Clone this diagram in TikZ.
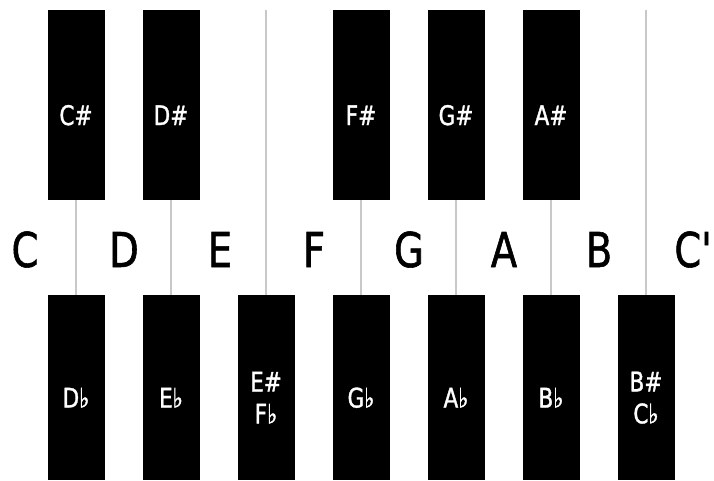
\documentclass[tikz,border=0pt]{standalone}
\usepackage{fontspec}
\setmainfont{DejaVu Sans}
\newfontfamily\notefont[FakeStretch=0.8,FakeBold=1.2]{DejaVu Sans}
\definecolor{KeyGrey}{HTML}{C8C8C8}
\usetikzlibrary{positioning}

\begin{document}
\begin{tikzpicture}[x=1pt,y=-1pt,
    blackkey/.style={fill=black,draw=none,minimum width=57pt,inner sep=0pt,anchor=north},
    keylab/.style={text=white,font=\notefont\fontsize{27}{32}\selectfont,align=center},
    whitelab/.style={font=\notefont\fontsize{48}{48}\selectfont,anchor=base,inner sep=0pt},
    split/.style={draw=KeyGrey,line width=1.5pt}]
  \useasboundingbox (0,0) rectangle (714,480);
  % upper row of black keys
  \foreach \nm/\x/\lab in {Cs/76/C\#,Ds/171/D\#,Fs/361/F\#,Gs/456/G\#,As/551/A\#} {
    \node[blackkey,minimum height=190pt] (\nm) at (\x,10) {};
    \node[keylab] (\nm-lab) at ([yshift=-10pt]\nm.center) {\lab};
  }
  % lower row of black keys
  \foreach \nm/\x/\lab in {Db/76/D♭,Eb/171/E♭,Fb/266/E\#\\F♭,Gb/361/G♭,Ab/456/A♭,Bb/551/B♭,Cb/646/B\#\\C♭} {
    \node[blackkey,minimum height=185pt] (\nm) at (\x,295) {};
    \node[keylab] (\nm-lab) at ([yshift=-10pt]\nm.center) {\lab};
  }
  \coordinate (topE) at (266,10);
  \coordinate (topB) at (646,10);
  \draw[split] (Cs.south) -- (Db.north);
  \draw[split] (Ds.south) -- (Eb.north);
  \draw[split] (topE) -- (Fb.north);
  \draw[split] (Fs.south) -- (Gb.north);
  \draw[split] (Gs.south) -- (Ab.north);
  \draw[split] (As.south) -- (Bb.north);
  \draw[split] (topB) -- (Cb.north);
  % white key names
  \foreach \nm/\x/\lab in {C/25/C,D/124/D,E/220/E,F/314/F,G/409/G,A/504/A,B/599/B} {
    \node[whitelab] (w\nm) at (\x,267) {\lab};
  }
  \node[whitelab,anchor=base east] (wCC) at (712,267) {C'};
\end{tikzpicture}
\end{document}
